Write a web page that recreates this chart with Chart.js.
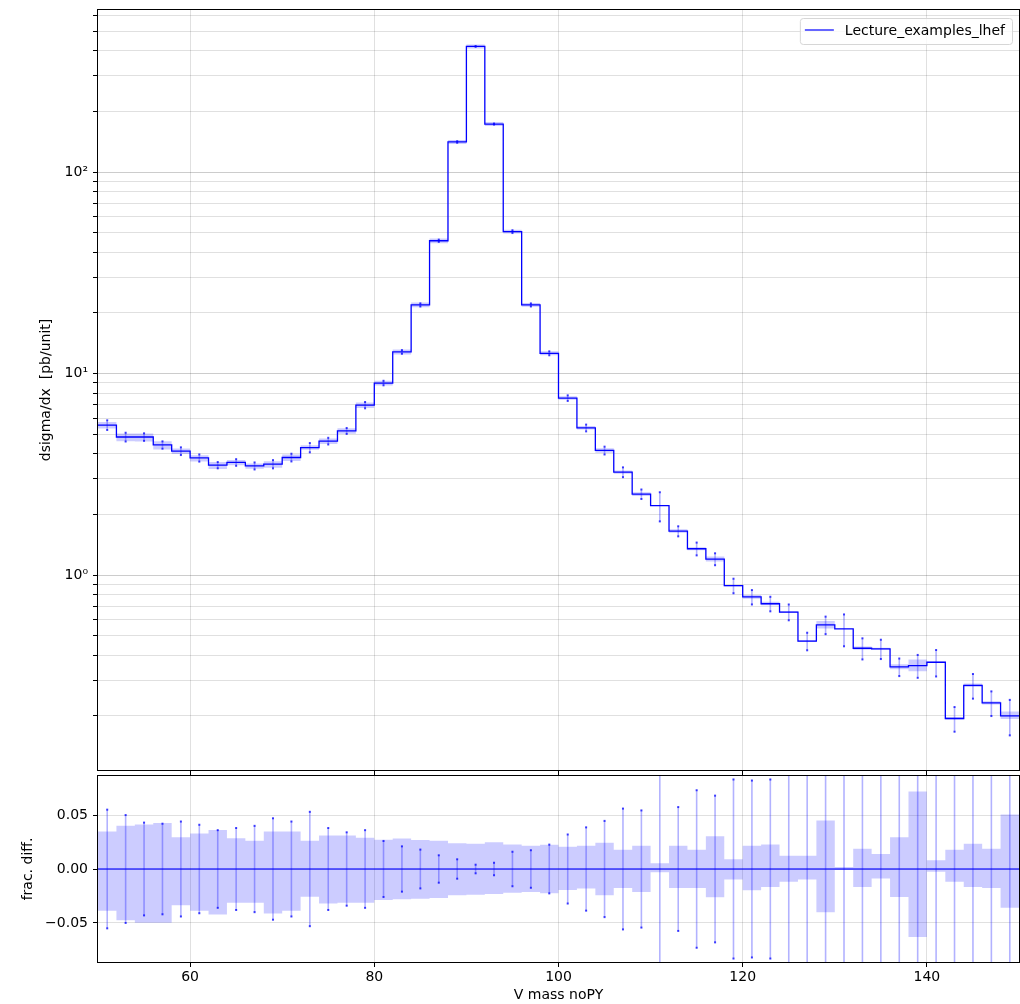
<!DOCTYPE html>
<html>
<head>
<meta charset="utf-8">
<title>V mass noPY</title>
<script src="https://cdn.jsdelivr.net/npm/chart.js@4.4.0/dist/chart.umd.min.js"></script>
<style>
  html, body { margin: 0; padding: 0; background: #fff; overflow: hidden; }
  #wrap { position: relative; width: 1020px; height: 1004px; }
  #boxTop { position: absolute; left: 0; top: 0; width: 1020px; height: 775px; }
  #boxRatio { position: absolute; left: 0; top: 770px; width: 1020px; height: 234px; }
</style>
</head>
<body>
<div id="wrap">
  <div id="boxTop"><canvas id="histo"></canvas></div>
  <div id="boxRatio"><canvas id="ratio"></canvas></div>
</div>
<script>
// bin edges of the V mass histogram (GeV)
const binEdges = [50, 52, 54, 56, 58, 60, 62, 64, 66, 68, 70, 72, 74, 76, 78, 80, 82, 84, 86, 88,
  90, 92, 94, 96, 98, 100, 102, 104, 106, 108, 110, 112, 114, 116, 118, 120, 122, 124, 126, 128,
  130, 132, 134, 136, 138, 140, 142, 144, 146, 148, 150];

// dsigma/dx per bin [pb/unit]
const dsigma = [5.55, 4.84, 4.84, 4.42, 4.12, 3.81, 3.51, 3.62, 3.48, 3.55,
  3.83, 4.29, 4.62, 5.19, 6.97, 8.97, 12.8, 21.9, 45.6, 141,
  420, 173, 50.6, 21.9, 12.6, 7.55, 5.37, 4.15, 3.24, 2.52,
  2.21, 1.65, 1.35, 1.20, 0.885, 0.778, 0.72, 0.655, 0.47, 0.565,
  0.54, 0.433, 0.43, 0.35, 0.355, 0.369, 0.194, 0.283, 0.232, 0.200];

// relative error bars (symmetric)
const relErr = [0.055, 0.050, 0.043, 0.042, 0.044, 0.041, 0.036, 0.038, 0.040, 0.047,
  0.044, 0.053, 0.038, 0.034, 0.036, 0.026, 0.021, 0.018, 0.0127, 0.009,
  0.004, 0.0058, 0.016, 0.0174, 0.0226, 0.032, 0.0386, 0.0446, 0.056, 0.0543,
  0.165, 0.0574, 0.073, 0.068, 0.083, 0.082, 0.083, 0.09, 0.10, 0.10,
  0.18, 0.12, 0.11, 0.10, 0.13, 0.15, 0.14, 0.14, 0.14, 0.20];

// uncertainty band, upper and lower edge (fractional)
const bandUp = [0.0347, 0.040, 0.0412, 0.0427, 0.0294, 0.0328, 0.0362, 0.0285, 0.0263, 0.0347,
  0.0347, 0.0263, 0.031, 0.031, 0.029, 0.027, 0.0283, 0.0269, 0.0263, 0.0238,
  0.0234, 0.0247, 0.0228, 0.0216, 0.0225, 0.0206, 0.0216, 0.0244, 0.0178, 0.0216,
  0.0053, 0.0216, 0.0178, 0.0303, 0.009, 0.0216, 0.0228, 0.0122, 0.0122, 0.045,
  0.0019, 0.0188, 0.014, 0.0294, 0.0719, 0.0081, 0.0178, 0.0234, 0.0188, 0.0506];
const bandDown = [-0.0388, -0.0474, -0.0499, -0.0499, -0.0335, -0.0388, -0.0421, -0.0313, -0.0313, -0.0412,
  -0.0388, -0.0257, -0.0319, -0.0313, -0.0313, -0.0288, -0.028, -0.0275, -0.0269, -0.0244,
  -0.0238, -0.0231, -0.0219, -0.0213, -0.0225, -0.0194, -0.018, -0.0244, -0.0175, -0.0213,
  -0.003, -0.0175, -0.0175, -0.0263, -0.0097, -0.0197, -0.0166, -0.0119, -0.0097, -0.040,
  -0.001, -0.0166, -0.0088, -0.026, -0.063, -0.0025, -0.0119, -0.0166, -0.0175, -0.036];

const massTicks = [60, 80, 100, 120, 140];
const decadeTicks = [0.1, 1, 10, 100];
const ratioTicks = [-0.05, 0, 0.05];
const seriesName = 'Lecture_examples_lhef';

const xLabel = 'V mass noPY';
const yLabel = 'dsigma/dx  [pb/unit]';
const ratioLabel = 'frac. diff.';

Chart.defaults.font.family = '"DejaVu Sans", sans-serif';
Chart.defaults.font.size = 14;
Chart.defaults.color = '#000';

const BLUE = '#0000ff';
const BAND = 'rgba(0, 0, 255, 0.2)';
const GRID = 'rgba(0, 0, 0, 0.12)';

// histogram as step points: one point per left edge plus the closing edge
function stepPoints(vals) {
  const pts = vals.map((v, i) => ({ x: binEdges[i], y: v }));
  pts.push({ x: binEdges[vals.length], y: vals[vals.length - 1] });
  return pts;
}

function centres() {
  return dsigma.map((v, i) => (binEdges[i] + binEdges[i + 1]) / 2);
}

// log ticks: every integer multiple inside each decade
function logTicks(min, max) {
  const out = [];
  decadeTicks.forEach(d => {
    for (let m = 1; m < 10; m++) {
      const v = d * m;
      if (v >= min && v <= max) out.push({ value: v, major: m === 1 });
    }
  });
  return out;
}

const supers = { '-': '⁻', '0': '⁰', '1': '¹', '2': '²', '3': '³' };
function powLabel(v) {
  const e = Math.round(Math.log10(v));
  if (Math.abs(Math.log10(v) - e) > 1e-6) return '';
  return '10' + String(e).split('').map(c => supers[c]).join('');
}

// axes frame on all four sides
const framePlugin = {
  id: 'frame',
  afterDraw(chart) {
    const { ctx, chartArea: a } = chart;
    ctx.save();
    ctx.strokeStyle = '#000';
    ctx.lineWidth = 1;
    ctx.strokeRect(Math.round(a.left) - 0.5, Math.round(a.top) - 0.5,
      Math.round(a.width) + 1, Math.round(a.height) + 1);
    ctx.restore();
  }
};

// vertical error bars with small end markers, clipped to the plot area
const errorBarPlugin = {
  id: 'errorBars',
  afterDatasetsDraw(chart, args, opts) {
    if (!opts.bars) return;
    const { ctx, chartArea: a, scales: { x, y } } = chart;
    ctx.save();
    ctx.beginPath();
    ctx.rect(a.left, a.top, a.width, a.height);
    ctx.clip();
    opts.bars.forEach(b => {
      const px = x.getPixelForValue(b.x);
      const yHi = y.getPixelForValue(b.hi);
      const yLo = y.getPixelForValue(b.lo);
      ctx.strokeStyle = 'rgba(0, 0, 255, 0.3)';
      ctx.lineWidth = 1.6;
      ctx.beginPath();
      ctx.moveTo(px, yHi);
      ctx.lineTo(px, yLo);
      ctx.stroke();
      ctx.fillStyle = 'rgba(0, 0, 255, 0.75)';
      ctx.fillRect(px - 1, yHi - 1, 2, 2);
      ctx.fillRect(px - 1, yLo - 1, 2, 2);
    });
    ctx.restore();
  }
};

// legend box in the upper right corner
const legendPlugin = {
  id: 'legendBox',
  afterDraw(chart) {
    const ds = chart.data.datasets[0];
    const { ctx, chartArea: a } = chart;
    ctx.save();
    ctx.font = '14px "DejaVu Sans"';
    const tw = ctx.measureText(ds.label).width;
    const w = tw + 52, h = 26;
    const left = a.right - 7 - w, top = a.top + 8;
    ctx.fillStyle = 'rgba(255, 255, 255, 0.8)';
    ctx.strokeStyle = '#d6d6d6';
    ctx.lineWidth = 1;
    ctx.beginPath();
    ctx.roundRect(left + 0.5, top + 0.5, w, h, 3);
    ctx.fill();
    ctx.stroke();
    ctx.strokeStyle = ds.borderColor;
    ctx.lineWidth = 1.2;
    ctx.beginPath();
    ctx.moveTo(left + 5, top + 12);
    ctx.lineTo(left + 34, top + 12);
    ctx.stroke();
    ctx.fillStyle = '#000';
    ctx.textBaseline = 'middle';
    ctx.fillText(ds.label, left + 45, top + 13);
    ctx.restore();
  }
};

function fixSize(prop, size) {
  return scale => {
    scale[prop] = size;
    scale.paddingTop = 0;
    scale.paddingBottom = 0;
    scale.paddingLeft = 0;
    scale.paddingRight = 0;
  };
}

function massAxis(showLabels) {
  return {
    type: 'linear',
    min: binEdges[0],
    max: binEdges[binEdges.length - 1],
    afterBuildTicks: s => { s.ticks = massTicks.map(v => ({ value: v })); },
    ticks: { display: showLabels, padding: 2, maxRotation: 0, autoSkip: false },
    grid: { color: GRID, lineWidth: 1, tickLength: 5, tickColor: '#000' },
    border: { display: false },
    title: { display: showLabels, text: xLabel, padding: { top: 0, bottom: 0 } },
    afterFit: fixSize('height', showLabels ? 42 : 5)
  };
}

const topData = {
  datasets: [
    {
      label: seriesName,
      data: stepPoints(dsigma),
      borderColor: BLUE,
      borderWidth: 1.3,
      stepped: 'before',
      pointRadius: 0,
      fill: false
    },
    {
      label: 'band up',
      data: stepPoints(dsigma.map((v, i) => v * (1 + bandUp[i]))),
      borderWidth: 0,
      stepped: 'before',
      pointRadius: 0,
      fill: false
    },
    {
      label: 'band down',
      data: stepPoints(dsigma.map((v, i) => v * (1 + bandDown[i]))),
      borderWidth: 0,
      stepped: 'before',
      pointRadius: 0,
      backgroundColor: BAND,
      fill: '-1'
    }
  ]
};

const yMin = 0.1077, yMax = 637;

new Chart(document.getElementById('histo'), {
  type: 'line',
  data: topData,
  options: {
    responsive: true,
    maintainAspectRatio: false,
    animation: false,
    events: [],
    layout: { padding: { left: 34, top: 10, right: 1, bottom: 0 } },
    plugins: {
      legend: { display: false },
      tooltip: { enabled: false },
      errorBars: {
        bars: centres().map((c, i) => ({ x: c, lo: dsigma[i] * (1 - relErr[i]), hi: dsigma[i] * (1 + relErr[i]) }))
      }
    },
    scales: {
      x: massAxis(false),
      y: {
        type: 'logarithmic',
        min: yMin,
        max: yMax,
        afterBuildTicks: s => { s.ticks = logTicks(yMin, yMax); },
        ticks: { autoSkip: false, padding: 5, callback: v => powLabel(v) },
        grid: {
          color: c => (c.tick && c.tick.major ? 'rgba(0,0,0,0.2)' : GRID),
          tickLength: 5,
          tickColor: '#000'
        },
        border: { display: false },
        title: { display: true, text: yLabel },
        afterFit: fixSize('width', 64)
      }
    }
  },
  plugins: [framePlugin, errorBarPlugin, legendPlugin]
});

const ratioData = {
  datasets: [
    {
      label: 'zero',
      data: [{ x: binEdges[0], y: 0 }, { x: binEdges[binEdges.length - 1], y: 0 }],
      borderColor: 'rgba(0, 0, 255, 0.75)',
      borderWidth: 1.5,
      pointRadius: 0,
      fill: false
    },
    {
      label: 'band up',
      data: stepPoints(bandUp),
      borderWidth: 0,
      stepped: 'before',
      pointRadius: 0,
      fill: false
    },
    {
      label: 'band down',
      data: stepPoints(bandDown),
      borderWidth: 0,
      stepped: 'before',
      pointRadius: 0,
      backgroundColor: BAND,
      fill: '-1'
    }
  ]
};

new Chart(document.getElementById('ratio'), {
  type: 'line',
  data: ratioData,
  options: {
    responsive: true,
    maintainAspectRatio: false,
    animation: false,
    events: [],
    layout: { padding: { left: 16, top: 6, right: 1, bottom: 0 } },
    plugins: {
      legend: { display: false },
      tooltip: { enabled: false },
      errorBars: {
        bars: centres().map((c, i) => ({ x: c, lo: -relErr[i], hi: relErr[i] }))
      }
    },
    scales: {
      x: massAxis(true),
      y: {
        type: 'linear',
        min: -0.0862,
        max: 0.0862,
        afterBuildTicks: s => { s.ticks = ratioTicks.map(v => ({ value: v })); },
        ticks: { autoSkip: false, padding: 5, callback: v => v.toFixed(2).replace('-', '\u2212') },
        grid: { color: GRID, tickLength: 5, tickColor: '#000' },
        border: { display: false },
        title: { display: true, text: ratioLabel },
        afterFit: fixSize('width', 82)
      }
    }
  },
  plugins: [framePlugin, errorBarPlugin]
});
</script>
</body>
</html>
